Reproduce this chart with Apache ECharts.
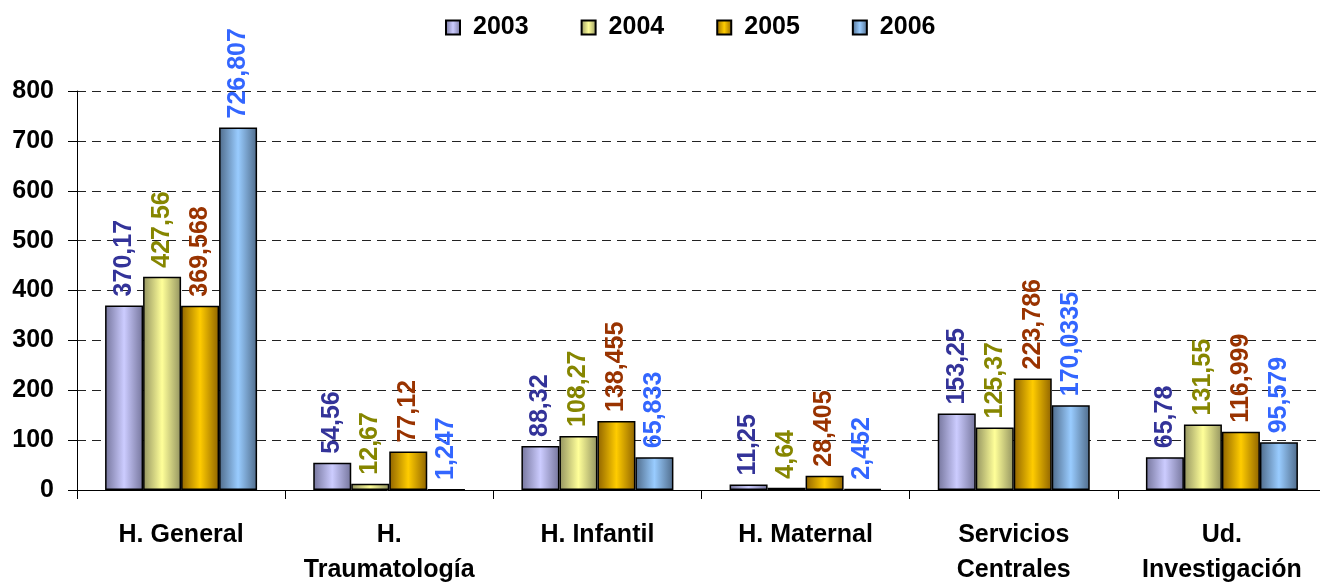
<!DOCTYPE html>
<html>
<head>
<meta charset="utf-8">
<script src="https://cdn.jsdelivr.net/npm/echarts@6/dist/echarts.min.js"></script>
<style>
    html, body { margin: 0; padding: 0; background: #fff; }
    #chart { width: 1320px; height: 583px; }
</style>
</head>
<body>
<div id="chart"></div>
<script>
    // datos
    const categories = ['H. General', 'H.\nTraumatología', 'H. Infantil', 'H. Maternal', 'Servicios\nCentrales', 'Ud.\nInvestigación'];
    const years = ['2003', '2004', '2005', '2006'];
    const v2003 = [370.17, 54.56, 88.32, 11.25, 153.25, 65.78];
    const v2004 = [427.56, 12.67, 108.27, 4.64, 125.37, 131.55];
    const v2005 = [369.568, 77.12, 138.455, 28.405, 223.786, 116.999];
    const v2006 = [726.807, 1.247, 65.833, 2.452, 170.0335, 95.579];
    const yTicks = [0, 100, 200, 300, 400, 500, 600, 700, 800];

    const seriesData = [v2003, v2004, v2005, v2006];
    // degradado horizontal: borde oscuro, centro claro
    const fills = [
        ['#75759c', '#ccccff'],
        ['#939360', '#ffff99'],
        ['#8f6300', '#ffcc00'],
        ['#4f6b8a', '#99ccff']
    ];
    const labelColors = ['#333399', '#868600', '#993300', '#3366ff'];

    function grad(c) {
        return new echarts.graphic.LinearGradient(0, 0, 1, 0, [
            {offset: 0, color: c[0]},
            {offset: 0.5, color: c[1]},
            {offset: 1, color: c[0]}
        ]);
    }

    const font = '"Liberation Sans", Arial, sans-serif';

    let myChart = echarts.init(document.getElementById('chart'));
    let option = {
        animation: false,
        legend: {
            top: 10,
            left: 440,
            icon: 'rect',
            itemWidth: 14,
            itemHeight: 14,
            itemGap: 52,
            data: years,
            textStyle: {
                fontFamily: font,
                fontWeight: 'bold',
                fontSize: 25,
                color: '#000',
                padding: [0, 0, 0, 8]
            }
        },
        grid: {
            left: 77,
            right: -6,
            top: 91,
            bottom: 93,
            outerBoundsMode: 'none'
        },
        xAxis: {
            type: 'category',
            data: categories,
            axisLine: {lineStyle: {color: '#000', width: 1}},
            axisTick: {show: true, length: 9, lineStyle: {color: '#000'}},
            axisLabel: {
                interval: 0,
                margin: 28,
                lineHeight: 35,
                fontFamily: font,
                fontWeight: 'bold',
                fontSize: 25,
                color: '#000'
            }
        },
        yAxis: {
            type: 'value',
            min: yTicks[0],
            max: yTicks[yTicks.length - 1],
            interval: 100,
            axisLine: {show: true, lineStyle: {color: '#000', width: 1}},
            axisTick: {show: true, length: 9, lineStyle: {color: '#000'}},
            axisLabel: {
                margin: 23,
                fontFamily: font,
                fontWeight: 'bold',
                fontSize: 25,
                color: '#000'
            },
            splitLine: {
                lineStyle: {color: '#222', type: [9, 6], width: 1}
            }
        },
        series: years.map(function (y, i) {
            return {
                name: y,
                type: 'bar',
                data: seriesData[i],
                barWidth: 38,
                barGap: '0%',
                itemStyle: {
                    color: grad(fills[i]),
                    borderColor: '#000',
                    borderWidth: 1.5
                },
                label: {
                    show: true,
                    position: 'top',
                    rotate: 90,
                    align: 'left',
                    verticalAlign: 'middle',
                    distance: 9,
                    fontFamily: font,
                    fontWeight: 'bold',
                    fontSize: 25,
                    color: labelColors[i],
                    formatter: function (p) {
                        return String(p.value).replace('.', ',');
                    }
                }
            };
        })
    };
    myChart.setOption(option);
</script>
</body>
</html>
